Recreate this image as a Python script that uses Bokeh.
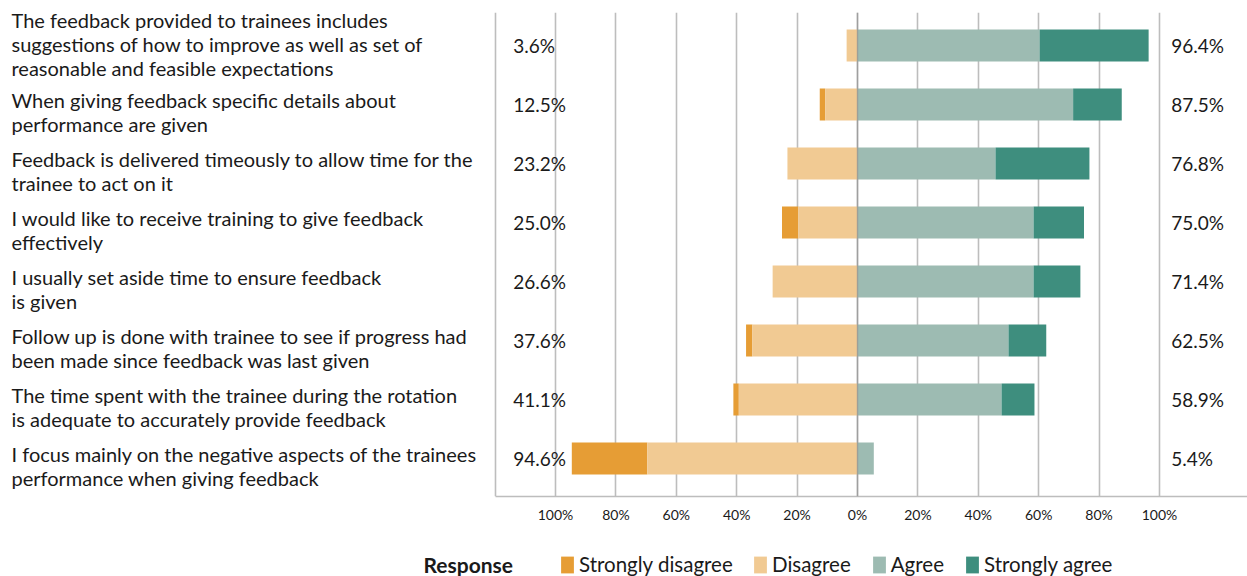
from bokeh.plotting import figure
from bokeh.layouts import column
from bokeh.models import Range1d, FixedTicker, Span, ColumnDataSource, Legend, LegendItem, Label
from bokeh.embed import file_html
from bokeh.resources import INLINE
from bokeh.core.properties import value
import numpy as np

# ---------------- data ----------------
questions = [
    "The feedback provided to trainees includes\nsuggestions of how to improve as well as set of\nreasonable and feasible expectations",
    "When giving feedback specific details about\nperformance are given",
    "Feedback is delivered timeously to allow time for the\ntrainee to act on it",
    "I would like to receive training to give feedback\neffectively",
    "I usually set aside time to ensure feedback\nis given",
    "Follow up is done with trainee to see if progress had\nbeen made since feedback was last given",
    "The time spent with the trainee during the rotation\nis adequate to accurately provide feedback",
    "I focus mainly on the negative aspects of the trainees\nperformance when giving feedback",
]
strongly_disagree = [0.0, 1.8, 0.0, 5.4, 0.0, 2.1, 1.8, 25.0]
disagree = [3.6, 10.7, 23.2, 19.6, 28.1, 34.8, 39.3, 69.6]
agree = [60.3, 71.4, 45.7, 58.3, 58.3, 50.0, 47.7, 5.4]
strongly_agree = [36.1, 16.1, 31.1, 16.7, 15.5, 12.5, 10.9, 0.0]
neg_labels = ["3.6%", "12.5%", "23.2%", "25.0%", "26.6%", "37.6%", "41.1%", "94.6%"]
pos_labels = ["96.4%", "87.5%", "76.8%", "75.0%", "71.4%", "62.5%", "58.9%", "5.4%"]
categories = ["Strongly disagree", "Disagree", "Agree", "Strongly agree"]
tick_values = [-100, -80, -60, -40, -20, 0, 20, 40, 60, 80, 100]
tick_labels = ["100%", "80%", "60%", "40%", "20%", "0%", "20%", "40%", "60%", "80%", "100%"]
legend_title = "Response"

# ---------------- style ----------------
COLORS = ["#E69D35", "#F1CA93", "#9DBBB2", "#3E8E7E"]
GRID = "#BDBDBD"
TXT = "#1A1A1A"
FONT = "Lato"
W = 1247
H_MAIN, H_LEG = 540, 36
SCALE = 3.02            # px per percent
ZERO_PX = 857
X_START = -ZERO_PX / SCALE
X_END = X_START + W / SCALE
Y_START, Y_END = 7.644, -0.559
LEFT_LINE = -120
NEG_LABEL_X = -114
POS_LABEL_X = 103.9
Q_LABEL_X = X_START + 11 / SCALE

rows = np.arange(len(questions))
sd = np.array(strongly_disagree)
d = np.array(disagree)
a = np.array(agree)
sa = np.array(strongly_agree)

src = ColumnDataSource(dict(
    y=rows,
    sd_left=-(d + sd), sd_right=-d,
    d_left=-d, d_right=np.zeros_like(d),
    a_left=np.zeros_like(a), a_right=a,
    sa_left=a, sa_right=a + sa,
))

p = figure(width=W, height=H_MAIN, output_backend="svg", toolbar_location=None,
           x_range=Range1d(X_START, X_END), y_range=Range1d(Y_START, Y_END),
           y_axis_location=None, min_border_left=0, min_border_right=0,
           min_border_top=12, min_border_bottom=H_MAIN - 496)
p.outline_line_color = None
p.ygrid.grid_line_color = None
p.xgrid.ticker = FixedTicker(ticks=[LEFT_LINE] + tick_values)
p.xgrid.grid_line_color = GRID
p.xgrid.grid_line_width = 1.6

BH = 0.54
for key, col in zip(["sd", "d", "a", "sa"], COLORS):
    p.hbar(y="y", left=f"{key}_left", right=f"{key}_right", height=BH, source=src,
           fill_color=col, line_color=None)

p.add_layout(Span(location=0, dimension="height", line_color="#8A8A8A", line_alpha=0.6, line_width=1.5))

ax = p.xaxis[0]
ax.ticker = FixedTicker(ticks=tick_values)
ax.major_label_overrides = {v: t for v, t in zip(tick_values, tick_labels)}
ax.bounds = (LEFT_LINE, X_END)
ax.axis_line_color = GRID
ax.axis_line_width = 1.6
ax.major_tick_line_color = None
ax.minor_tick_line_color = None
ax.major_label_standoff = 3
ax.major_label_text_font = FONT
ax.major_label_text_font_size = "14px"
ax.major_label_text_color = TXT

lab_src = ColumnDataSource(dict(y=rows, neg=neg_labels, pos=pos_labels, q=questions,
                                qoff=[-1.5 if q.count("\n") == 2 else 7.5 for q in questions]))
p.text(x=NEG_LABEL_X, y="y", text="neg", source=lab_src, text_font=value(FONT),
       text_font_size="19px", text_color=TXT, text_baseline="middle", text_align="left")
p.text(x=POS_LABEL_X, y="y", text="pos", source=lab_src, text_font=value(FONT),
       text_font_size="19px", text_color=TXT, text_baseline="middle", text_align="left")
p.text(x=Q_LABEL_X, y="y", text="q", y_offset="qoff", source=lab_src, text_font=value(FONT),
       text_font_size="20px", text_color=TXT, text_baseline="middle", text_align="left",
       text_line_height=1.0)

# ---------------- legend strip ----------------
lf = figure(width=W, height=H_LEG, output_backend="svg", toolbar_location=None,
            x_range=Range1d(0, 1), y_range=Range1d(0, 1),
            x_axis_location=None, y_axis_location=None,
            min_border=0, min_border_left=0, min_border_right=0,
            min_border_top=0, min_border_bottom=0)
lf.outline_line_color = None
lf.grid.visible = False
# swatch-only renderers, placed outside the visible range of the legend strip
dummies = []
for col in COLORS:
    dummies.append(lf.hbar(y=[-5], left=[0], right=[1], height=1, fill_color=col, line_color=None))

LEG_STYLE = dict(orientation="horizontal", glyph_width=16, glyph_height=21, label_standoff=4,
                 spacing=20, padding=0, margin=0, border_line_color=None,
                 background_fill_alpha=0, label_text_font=FONT, label_text_font_size="20.5px",
                 label_text_color=TXT, label_height=21)
leg1 = Legend(items=[LegendItem(label=categories[0], renderers=[dummies[0]])],
              location=(559, 0), **LEG_STYLE)
leg2 = Legend(items=[LegendItem(label=c, renderers=[r]) for c, r in zip(categories[1:], dummies[1:])],
              location=(752, 0), **LEG_STYLE)
lf.add_layout(leg1, "center")
lf.add_layout(leg2, "center")
lf.add_layout(Label(x=423, y=12, x_units="screen", y_units="screen", text=legend_title,
                    text_font=FONT, text_font_style="bold", text_font_size="21px",
                    text_color=TXT, text_baseline="middle"))

open("out.html", "w").write(file_html(column(p, lf, spacing=0), INLINE))
